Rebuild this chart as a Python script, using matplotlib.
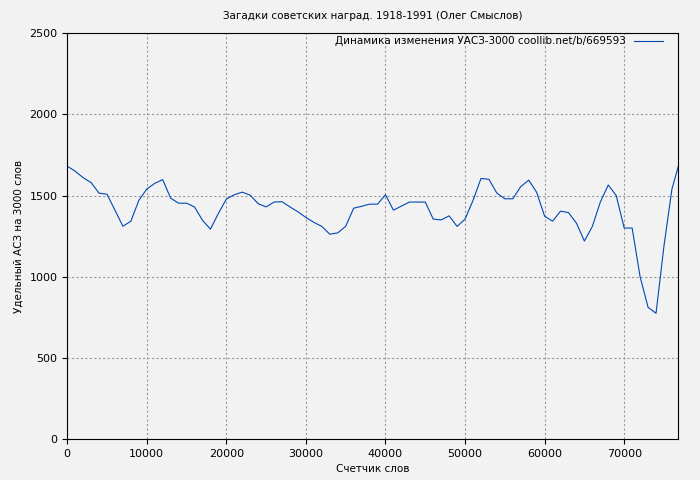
import matplotlib
matplotlib.use("Agg")
import matplotlib.pyplot as plt

x_words = [i * 1000 for i in range(77)] + [76800]
uasz = [1681, 1650, 1610, 1580, 1515, 1508, 1410, 1311, 1342, 1470,
        1540, 1575, 1598, 1484, 1453, 1453, 1430, 1348, 1293, 1390,
        1478, 1505, 1521, 1502, 1450, 1430, 1460, 1462, 1430, 1400,
        1365, 1335, 1310, 1262, 1270, 1311, 1422, 1434, 1447, 1447,
        1505, 1410, 1435, 1460, 1460, 1460, 1355, 1350, 1375, 1310,
        1355, 1470, 1605, 1600, 1515, 1480, 1480, 1555, 1595, 1520,
        1373, 1342, 1404, 1395, 1330, 1220, 1310, 1460, 1565, 1500,
        1300, 1300, 1000, 812, 775, 1190, 1540, 1680]

fig = plt.figure(figsize=(7, 4.8), dpi=100, facecolor="#f2f2f2")
ax = fig.add_axes([0.096, 0.085, 0.873, 0.846], facecolor="#f2f2f2")
ax.plot(x_words, uasz, color="#0047b3", lw=0.8,
        label="Динамика изменения УАСЗ-3000 coollib.net/b/669593")
ax.set_xlim(0, 76800)
ax.set_ylim(0, 2500)
ax.set_xticks(range(0, 70001, 10000))
ax.set_yticks(range(0, 2501, 500))
ax.grid(True, color="#999999", linestyle=(0, (2, 2)), lw=0.8)
ax.tick_params(labelsize=8)
ax.set_title("Загадки советских наград. 1918-1991 (Олег Смыслов)", fontsize=7.5, pad=10)
ax.set_xlabel("Счетчик слов", fontsize=7.5)
ax.set_ylabel("Удельный АСЗ на 3000 слов", fontsize=7.5)
ax.legend(loc="upper right", bbox_to_anchor=(0.98, 1.0), frameon=False, fontsize=7.5,
          markerfirst=False, handlelength=2.8, borderaxespad=0.0, borderpad=0.3)
fig.savefig("out.png", dpi=100, facecolor=fig.get_facecolor())
